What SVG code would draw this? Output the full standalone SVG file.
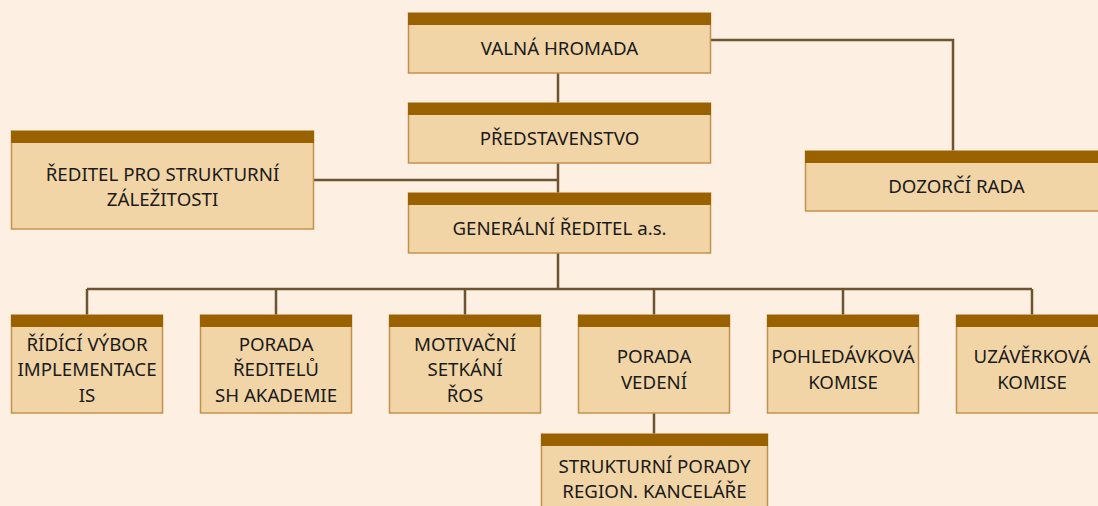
<svg xmlns="http://www.w3.org/2000/svg" width="1098" height="506" viewBox="0 0 1098 506">
<style>
.box{fill:#f2d5a6;stroke:#c4914c;stroke-width:1.5}
.bar{fill:#9a6100}
.t{font-family:"Noto Sans","Open Sans",sans-serif;font-size:18.7px;fill:#1a1a1a;text-anchor:middle}
.c{fill:none;stroke:#6e5330;stroke-width:2.5}
</style>
<rect width="1098" height="506" fill="#fdf0e2"/>
<g id="connectors">
<path class="c" d="M711,40 H953 V151"/>
<path class="c" d="M558,73 V103"/>
<path class="c" d="M558,163 V193"/>
<path class="c" d="M314,180 H558"/>
<path class="c" d="M558,253 V289"/>
<path class="c" d="M87,289 H1032"/>
<path class="c" d="M87,289 V315 M276,289 V315 M465,289 V315 M654,289 V315 M843,289 V315 M1032,289 V315"/>
<path class="c" d="M654,413 V434"/>
</g>
<g id="valna-hromada">
<rect class="box" x="408.5" y="13" width="302" height="60"/><rect class="bar" x="408" y="13" width="303" height="12"/>
<text class="t" x="559.5" y="55">VALNÁ HROMADA</text>
</g>
<g id="predstavenstvo">
<rect class="box" x="408.5" y="103" width="302" height="60"/><rect class="bar" x="408" y="103" width="303" height="12"/>
<text class="t" x="559.5" y="145">PŘEDSTAVENSTVO</text>
</g>
<g id="generalni-reditel">
<rect class="box" x="408.5" y="193" width="302" height="60"/><rect class="bar" x="408" y="193" width="303" height="12"/>
<text class="t" x="559.5" y="235">GENERÁLNÍ ŘEDITEL a.s.</text>
</g>
<g id="reditel-strukturni">
<rect class="box" x="11.5" y="131" width="302" height="98"/><rect class="bar" x="11" y="131" width="303" height="12"/>
<text class="t" x="162.5" y="181">ŘEDITEL PRO STRUKTURNÍ</text>
<text class="t" x="162.5" y="206">ZÁLEŽITOSTI</text>
</g>
<g id="dozorci-rada">
<rect class="box" x="805.5" y="151" width="302" height="60"/><rect class="bar" x="805" y="151" width="303" height="12"/>
<text class="t" x="956.5" y="193">DOZORČÍ RADA</text>
</g>
<g id="ridici-vybor">
<rect class="box" x="11.5" y="315" width="151" height="98"/><rect class="bar" x="11" y="315" width="152" height="12"/>
<text class="t" x="87" y="351">ŘÍDÍCÍ VÝBOR</text>
<text class="t" x="87" y="376">IMPLEMENTACE</text>
<text class="t" x="87" y="402">IS</text>
</g>
<g id="porada-reditelu">
<rect class="box" x="200.5" y="315" width="151" height="98"/><rect class="bar" x="200" y="315" width="152" height="12"/>
<text class="t" x="276" y="351">PORADA</text>
<text class="t" x="276" y="376">ŘEDITELŮ</text>
<text class="t" x="276" y="402">SH AKADEMIE</text>
</g>
<g id="motivacni-setkani">
<rect class="box" x="389.5" y="315" width="151" height="98"/><rect class="bar" x="389" y="315" width="152" height="12"/>
<text class="t" x="465" y="351">MOTIVAČNÍ</text>
<text class="t" x="465" y="376">SETKÁNÍ</text>
<text class="t" x="465" y="402">ŘOS</text>
</g>
<g id="porada-vedeni">
<rect class="box" x="578.5" y="315" width="151" height="98"/><rect class="bar" x="578" y="315" width="152" height="12"/>
<text class="t" x="654" y="363">PORADA</text>
<text class="t" x="654" y="389">VEDENÍ</text>
</g>
<g id="pohledavkova-komise">
<rect class="box" x="767.5" y="315" width="151" height="98"/><rect class="bar" x="767" y="315" width="152" height="12"/>
<text class="t" x="843" y="363">POHLEDÁVKOVÁ</text>
<text class="t" x="843" y="389">KOMISE</text>
</g>
<g id="uzaverkova-komise">
<rect class="box" x="956.5" y="315" width="151" height="98"/><rect class="bar" x="956" y="315" width="152" height="12"/>
<text class="t" x="1032" y="363">UZÁVĚRKOVÁ</text>
<text class="t" x="1032" y="389">KOMISE</text>
</g>
<g id="strukturni-porady">
<rect class="box" x="541.5" y="434" width="226" height="90"/><rect class="bar" x="541" y="434" width="227" height="12"/>
<text class="t" x="654.5" y="473">STRUKTURNÍ PORADY</text>
<text class="t" x="654.5" y="498">REGION. KANCELÁŘE</text>
</g>
</svg>
